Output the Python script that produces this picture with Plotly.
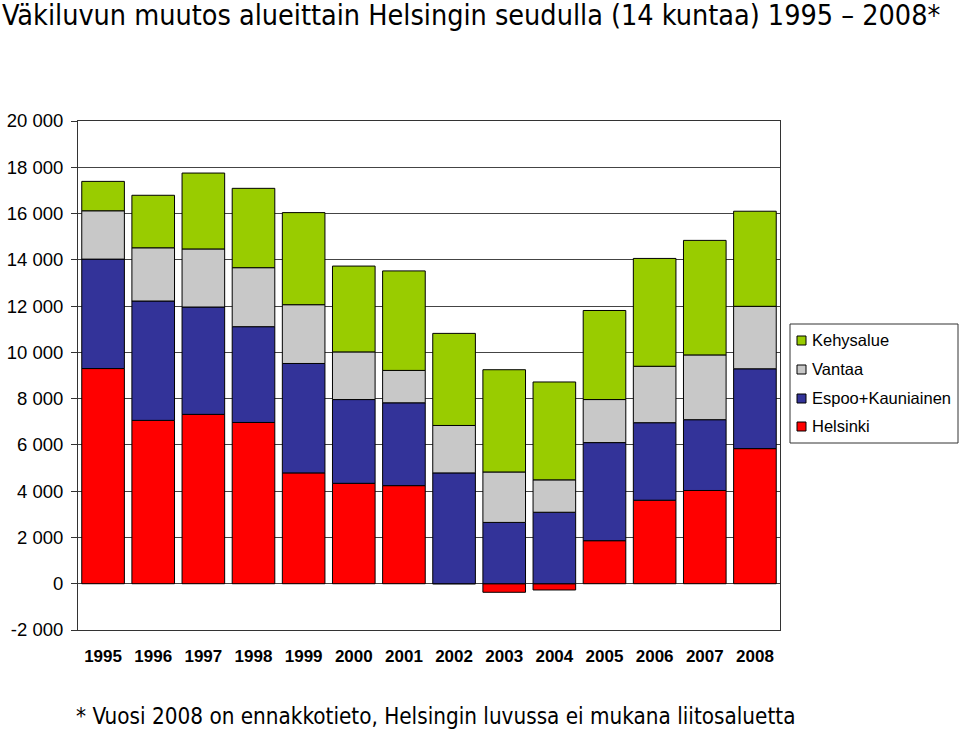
import plotly.graph_objects as go

years = ["1995", "1996", "1997", "1998", "1999", "2000", "2001", "2002",
         "2003", "2004", "2005", "2006", "2007", "2008"]
helsinki = [9300, 7060, 7320, 6970, 4790, 4340, 4240, 0, -370, -270, 1860, 3610, 4030, 5840]
espoo = [4730, 5160, 4640, 4140, 4730, 3620, 3580, 4790, 2650, 3090, 4240, 3350, 3060, 3450]
vantaa = [2090, 2300, 2510, 2550, 2540, 2060, 1400, 2050, 2180, 1400, 1860, 2440, 2800, 2700]
kehys = [1270, 2270, 3280, 3430, 3980, 3710, 4300, 3980, 4420, 4230, 3850, 4660, 4950, 4110]

series_names = ["Helsinki", "Espoo+Kauniainen", "Vantaa", "Kehysalue"]
series_values = [helsinki, espoo, vantaa, kehys]
series_colors = ["#FF0000", "#333399", "#C8C8C8", "#99CC00"]

y_tickvals = [-2000, 0, 2000, 4000, 6000, 8000, 10000, 12000, 14000, 16000, 18000, 20000]
y_ticktext = ["-2 000", "0", "2 000", "4 000", "6 000", "8 000", "10 000",
              "12 000", "14 000", "16 000", "18 000", "20 000"]

title_text = "Väkiluvun muutos alueittain Helsingin seudulla (14 kuntaa) 1995 – 2008*"
footnote = "* Vuosi 2008 on ennakkotieto, Helsingin luvussa ei mukana liitosaluetta"

narrow = "Liberation Sans Narrow, Arial Narrow, DejaVu Sans Condensed, sans-serif"
sans = "Liberation Sans, Arial, sans-serif"

W, H = 960, 730
ML, MR, MT, MB = 78, 180, 121, 100
PW, PH = W - ML - MR, H - MT - MB


def px_x(x):
    return (x - ML) / PW


def px_y(y):
    return (H - MB - y) / PH


fig = go.Figure()
for name, vals, col in zip(series_names, series_values, series_colors):
    fig.add_trace(go.Bar(
        x=years, y=vals, name=name, showlegend=False,
        marker=dict(color=col, line=dict(color="#000000", width=1)),
    ))

shapes = []
annotations = [
    dict(text=title_text, xref="paper", yref="paper", x=px_x(0), y=px_y(15),
         xanchor="left", yanchor="middle", showarrow=False,
         font=dict(family=narrow, size=28.5, color="black")),
    dict(text=footnote, xref="paper", yref="paper", x=px_x(74), y=px_y(716),
         xanchor="left", yanchor="middle", showarrow=False,
         font=dict(family=narrow, size=22.3, color="black")),
]

# custom legend (box + entries), top entry first
shapes.append(dict(type="rect", xref="paper", yref="paper",
                   x0=px_x(790), x1=px_x(958), y0=px_y(324), y1=px_y(443),
                   line=dict(color="#333333", width=1), fillcolor="white", layer="above"))
legend_rows = [340, 369, 398, 426]
for row_y, name, col in zip(legend_rows, series_names[::-1], series_colors[::-1]):
    shapes.append(dict(type="rect", xref="paper", yref="paper",
                       x0=px_x(797), x1=px_x(806), y0=px_y(row_y - 4), y1=px_y(row_y + 5),
                       line=dict(color="#000000", width=1), fillcolor=col, layer="above"))
    annotations.append(dict(text=name, xref="paper", yref="paper", x=px_x(810),
                            y=px_y(row_y), xanchor="left", yanchor="middle",
                            showarrow=False,
                            font=dict(family=sans, size=16.5, color="black")))

fig.update_layout(
    barmode="relative",
    bargap=0.15,
    width=W, height=H,
    margin=dict(l=ML, r=MR, t=MT, b=MB, autoexpand=False),
    paper_bgcolor="white", plot_bgcolor="white",
    font=dict(family=sans, color="black"),
    showlegend=False,
    shapes=shapes,
    annotations=annotations,
)

fig.update_xaxes(
    automargin=False,
    showgrid=False, showline=True, linecolor="#333333", linewidth=1, mirror=True,
    ticks="", tickfont=dict(family=sans, size=17, color="black", weight="bold"),
    ticklabelstandoff=11,
)
fig.update_yaxes(
    automargin=False,
    range=[-2000, 20000], tickvals=y_tickvals, ticktext=y_ticktext,
    showgrid=True, gridcolor="#444444", gridwidth=1,
    zeroline=False,
    showline=True, linecolor="#333333", linewidth=1, mirror=True,
    ticks="outside", ticklen=6, tickcolor="#333333",
    tickfont=dict(family=sans, size=18.5, color="black"),
    ticklabelstandoff=4,
)

fig.write_html(
    "out.html",
    config={"displayModeBar": False},
    post_script="document.body.style.margin='0';document.body.style.overflow='hidden';",
)
